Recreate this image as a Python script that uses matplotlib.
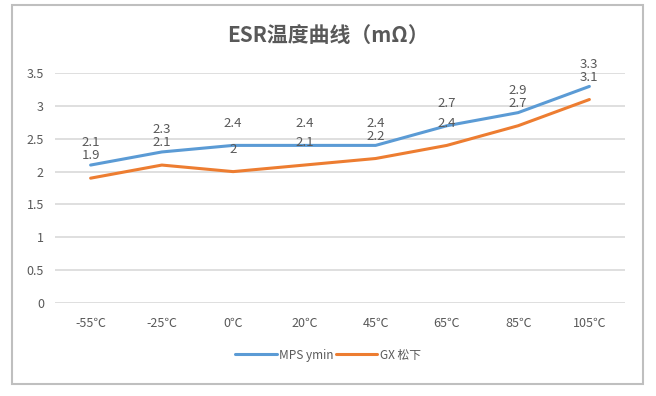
import matplotlib
matplotlib.use("Agg")
import matplotlib.pyplot as plt
from matplotlib.patches import Rectangle

plt.rcParams['font.family'] = ['Noto Sans CJK SC', 'DejaVu Sans']

temps = ['-55℃', '-25℃', '0℃', '20℃', '45℃', '65℃', '85℃', '105℃']
mps_ymin = [2.1, 2.3, 2.4, 2.4, 2.4, 2.7, 2.9, 3.3]
gx_panasonic = [1.9, 2.1, 2.0, 2.1, 2.2, 2.4, 2.7, 3.1]
yticks = [0, 0.5, 1, 1.5, 2, 2.5, 3, 3.5]

blue = '#5B9BD5'
orange = '#ED7D31'
txt = '#595959'

fig = plt.figure(figsize=(6.56, 3.96), dpi=100)
fig.patches.append(Rectangle((12/656, 1-384/396), 631/656, 379/396,
                             transform=fig.transFigure, fill=False,
                             edgecolor='#BFBFBF', linewidth=1.5))

ax = fig.add_axes([55/656, 1-302.7/396, 570/656, 229.4/396])
x = list(range(len(temps)))
ax.plot(x, mps_ymin, color=blue, lw=2.2, label='MPS ymin', solid_capstyle='round')
ax.plot(x, gx_panasonic, color=orange, lw=2.2, label='GX 松下', solid_capstyle='round')

for xi, v in zip(x, mps_ymin):
    ax.annotate('%g' % v, (xi, v), xytext=(0, 16), textcoords='offset points',
                ha='center', va='center', fontsize=9.5, color=txt, annotation_clip=False)
for xi, v in zip(x, gx_panasonic):
    ax.annotate('%g' % v, (xi, v), xytext=(0, 16), textcoords='offset points',
                ha='center', va='center', fontsize=9.5, color=txt, annotation_clip=False)

ax.set_xlim(-0.5, 7.5)
ax.set_ylim(0, 3.5)
ax.set_yticks(yticks)
ax.set_yticklabels(['%g' % t for t in yticks])
ax.set_xticks(x)
ax.set_xticklabels(temps)
ax.tick_params(length=0, colors=txt, labelsize=9)
ax.tick_params(axis='x', pad=10)
ax.tick_params(axis='y', pad=8)
ax.grid(axis='y', color='#D9D9D9', lw=1.2)
ax.set_axisbelow(True)
for s in ax.spines.values():
    s.set_visible(False)

fig.text(0.5, 1-36/396, 'ESR温度曲线（mΩ）', ha='center', va='center',
         fontsize=15, fontweight='bold', color=txt)

fig.legend(loc='center', bbox_to_anchor=(0.5, 1-355/396), ncol=2, frameon=False,
           fontsize=8.5, handlelength=3.5, handletextpad=0.2, columnspacing=0.2,
           labelcolor=txt)

fig.savefig('out.png', dpi=100)
